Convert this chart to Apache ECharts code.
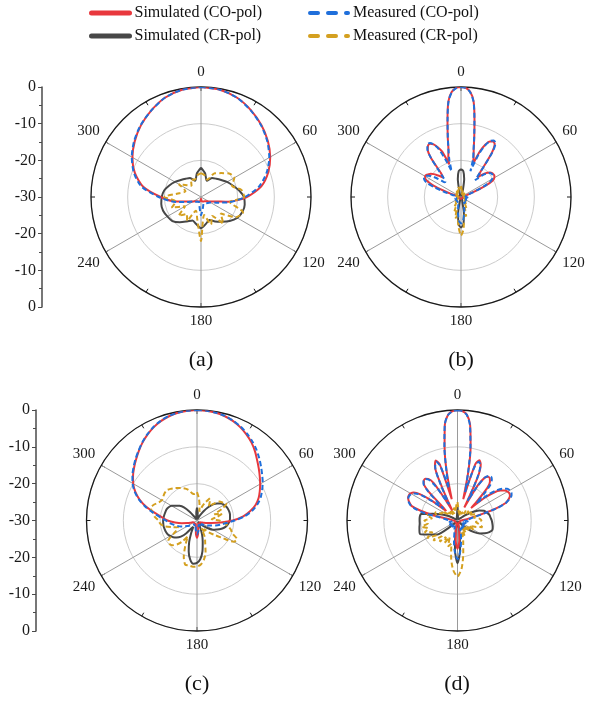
<!DOCTYPE html>
<html><head><meta charset="utf-8">
<script src="https://cdn.jsdelivr.net/npm/echarts@6/dist/echarts.min.js"></script>
<style>html,body{margin:0;padding:0;background:#fff}#c{width:595px;height:704px}</style>
</head><body><div id="c"></div><script>
// ---------- tick labels ----------
const ANGLE_LABELS = ['0','60','120','180','240','300',''];
const Y_LABELS = ['0','-10','-20','-30','-20','-10','0'];
const CAPTIONS = ['(a)','(b)','(c)','(d)'];
const NAMES = ['Simulated (CO-pol)','Simulated (CR-pol)','Measured (CO-pol)','Measured (CR-pol)'];

// ---------- angle grids (degrees) ----------
const ANG10 = [0,10,20,30,40,50,60,70,80,90,100,110,120,130,140,150,160,170,180,190,200,210,220,230,240,250,260,270,280,290,300,310,320,330,340,350];
const ANG5 = [0,5,10,15,20,25,30,35,40,45,50,55,60,65,70,75,80,85,90,95,100,105,110,115,120,125,130,135,140,145,150,155,160,165,170,175,180,185,190,195,200,205,210,215,220,225,230,235,240,245,250,255,260,265,270,275,280,285,290,295,300,305,310,315,320,325,330,335,340,345,350,355];
const ANGF = [0,2.5,5,7.5,10,12.5,15,17.5,20,22.5,25,27.5,30,32.5,35,37.5,40,42.5,45,47.5,50,52.5,55,57.5,60,62.5,65,67.5,70,72.5,75,
  80,85,90,95,100,105,110,115,120,125,130,135,140,145,150,155,160,165,170,175,180,185,190,195,200,205,210,215,220,225,230,235,240,245,250,255,260,265,270,275,280,
  282.5,285,287.5,290,292.5,295,297.5,300,302.5,305,307.5,310,312.5,315,317.5,320,322.5,325,327.5,330,332.5,335,337.5,340,342.5,345,347.5,350,352.5,355,357.5];

// ---------- panel (a) values, dB ----------
const a_simCO = [0,-0.3,-1.2,-2.7,-4.4,-6.2,-8.2,-10.5,-13.3,-17.5,-22.5,-26.5,-27.6,-28.2,-28.5,-28.6,-28.7,-28.9,-29.5,-28.9,-28.7,-28.6,-28.5,-28.2,-27.6,-26.5,-23,-19,-14,-10.8,-8.4,-6.4,-4.5,-2.8,-1.2,-0.3];
const a_simCR = [-22.0,-23.5,-25.3,-24.0,-23.5,-22.8,-21.8,-20.8,-19.5,-18.3,-17.9,-18.0,-18.6,-19.8,-21.2,-22.3,-23.3,-22.5,-21.5,-22.5,-23.2,-22.3,-21.0,-19.8,-19.4,-19.0,-19.0,-19.3,-19.8,-20.8,-21.8,-22.8,-23.5,-24.0,-25.3,-23.5];
const a_meaCO = [0,-0.3,-1.2,-2.8,-4.5,-6.4,-8.5,-11,-14,-18,-22,-25.5,-27,-27.5,-27.8,-28,-28,-27,-25,-27.5,-28.5,-28.5,-28.3,-28,-27.5,-26,-22.5,-18.5,-13.5,-10.5,-8.2,-6.2,-4.4,-2.8,-1.2,-0.3];
const a_meaCR = [-23.5,-24,-25,-22.5,-21.5,-20,-19.5,-21,-18.8,-18.2,-22,-17.8,-19,-23,-20.5,-24,-22,-25,-18,-24,-26,-22.5,-24,-22,-25,-21.5,-23,-20,-24,-25.5,-23,-25,-26,-24.5,-25,-24];

// ---------- panel (b) values, dB ----------
const b_simCO = [0,-0.2,-1.2,-3.7,-8.8,-13.3,-16.6,-18.6,-20.5,-16.5,-14.2,-12.9,-12.5,-12.9,-15.5,-21,-23,-22,-21,-20.2,-19.6,-19.3,-19.2,-19.2,-19.5,-20.2,-22.5,-25.5,-27.5,-28.5,-29,
  -29.3,-29.5,-29.5,-29.5,-29.5,-29.5,-29.5,-29.5,-29.5,-29.5,
  -29.5,-29.5,-29.5,-29.5,-29.5,-29.5,-29.5,-29.5,-29.5,-29.5,
  -29.5,-29.5,-29.5,-29.5,-29.5,-29.5,-29.5,-29.5,-29.5,-29.5,
  -29.5,-29.5,-29.5,-29.5,-29.5,-29.5,-29.5,-29.5,-29.5,-29.5,-29.3,
  -29,-28.5,-27,-25,-22,-20,-19,-18.7,-18.8,-19.2,-19.6,-20.3,-21.2,-22,-22.8,-21.5,-16.5,-14.2,-13.3,-13.2,-13.8,-15,-16.6,-20.5,-18.5,-16.8,-13.3,-8.8,-3.7,-1.2,-0.2];
const b_meaCO = [0,-0.3,-1.3,-3.8,-8.9,-13.4,-16.8,-19,-22.5,-17.5,-14.5,-12.8,-12.2,-12.5,-15,-21,-24,-23,-21.5,-20.5,-19.8,-19.5,-19.5,-19.7,-20.2,-21,-23,-25.5,-27.5,-28,-28.5,
  -28.5,-28.8,-28.5,-28.2,-28.7,-28.4,-28.8,-28.3,-28.6,-28.2,-28.7,-28.4,-28.5,-28.1,-28.4,-27.8,-27.5,-26.5,-25.2,-23.5,-22.8,-23.5,-25.5,-27,-27.8,-28.3,-28.5,-28.2,-28.6,-28.3,-28.7,-28.4,-28.6,-28.2,-28.7,-28.4,-28.6,-28.3,-28.5,-28.4,-28.3,
  -28,-27,-25,-22.5,-20,-19,-18.6,-18.7,-19.2,-20,-21.5,-23,-24,-24,-23,-20.5,-16.5,-14,-13,-13,-13.8,-15.5,-19,-22.5,-19.5,-16.8,-13.4,-8.9,-3.8,-1.3,-0.3];
const b_simCR = [-22.4,-22.9,-25,-28,-29.5,-29.5,-29.5,-29.5,-29.5,-29.5,-29.5,-29.5,
  -29.5,-29.5,-29.5,-29.5,-29.5,-29.5,-29.5,-29.5,-29.5,-29.5,-29.5,-29.5,
  -29.5,-29.5,-29.5,-29.5,-29.5,-29.5,-29.5,-29.5,-29.5,-28.5,-25.5,-22.5,
  -21.7,-22.5,-25.5,-28.5,-29.5,-29.5,-29.5,-29.5,-29.5,-29.5,-29.5,-29.5,
  -29.5,-29.5,-29.5,-29.5,-29.5,-29.5,-29.5,-29.5,-29.5,-29.5,-29.5,-29.5,
  -29.5,-29.5,-29.5,-29.5,-29.5,-29.5,-29.5,-29.5,-29.5,-28,-25,-22.9];
const b_meaCR = [-27,-28,-28.8,-28.2,-29.3,-28.6,-29.4,-28.7,-29.2,-28.5,-29.4,-28.9,
  -29.5,-28.8,-29.3,-28.6,-29.4,-28.8,-29.2,-28.5,-29.3,-28.6,-29.1,-28.4,
  -29,-28.2,-28.9,-27.8,-28.5,-27.2,-27.8,-26.3,-27,-24.5,-25.5,-21.5,
  -19.5,-22,-24.8,-24,-26.5,-25.8,-27.5,-27,-28.3,-27.8,-28.8,-28.2,
  -29.2,-28.6,-29.4,-28.7,-29.3,-28.6,-29.4,-28.8,-29.3,-28.5,-29.2,-28.4,
  -29,-28.3,-28.9,-28.1,-28.7,-27.9,-28.6,-27.8,-28.3,-27.2,-27.8,-26.8];

// ---------- panel (c) values, dB ----------
const c_simCO = [0,-0.1,-0.3,-0.7,-1.3,-2.1,-3.1,-4.2,-5.5,-6.9,-8.1,-9.2,
  -10.2,-11.2,-12.2,-13.5,-15.3,-17.4,-20.3,-23.5,-26,-27.5,-28.3,-28.7,
  -29,-29,-29,-29,-29,-29,-29,-29,-29,-28.8,-28.2,-26.5,
  -25.3,-26.5,-28.2,-28.8,-29,-29,-29,-29,-29,-29,-29,-29,
  -29,-28.8,-28.3,-27.3,-25.8,-24,-22,-20.5,-18.5,-15.8,-13.4,-11.5,
  -10,-8.8,-7.7,-6.6,-5.4,-4.2,-3.1,-2.1,-1.3,-0.7,-0.3,-0.1];
const c_meaCO = [0,-0.1,-0.3,-0.6,-1.2,-1.9,-2.8,-3.8,-4.9,-6.1,-7.3,-8.4,
  -9.4,-10.5,-11.6,-13,-14.8,-17,-19.8,-22,-23.5,-24.8,-26,-26.8,
  -27.5,-28,-28.5,-28.2,-28.7,-28.5,-28.8,-28.4,-28.7,-28.3,-27.5,-26.8,
  -26.2,-27,-28,-28.6,-28.3,-28.7,-28.4,-28.8,-28.5,-28.2,-28,-27.6,
  -27,-26.2,-25.3,-24.4,-23.5,-22.5,-21.5,-20,-18,-15.5,-13.2,-11.3,
  -9.8,-8.6,-7.5,-6.4,-5.3,-4.1,-3,-2,-1.2,-0.6,-0.3,-0.1];
const c_simCR = [-26.5,-27.8,-29.2,-29.5,-29.5,-29.3,-28.5,-27,-25.3,-23.8,-22.8,-22,
  -21.5,-21.2,-21,-20.9,-20.9,-21,-21.1,-21.4,-21.8,-22.4,-23.2,-24.2,
  -25,-26.2,-27.5,-28.6,-29.2,-29.5,-29.2,-28,-26,-24,-21.5,-19.5,
  -18.5,-18.2,-19.3,-21.3,-23.8,-26.3,-28,-27.5,-25.5,-23.8,-22.8,-22.1,
  -21.6,-21.2,-21,-20.9,-20.8,-20.8,-20.8,-20.9,-21,-21.1,-21.2,-21.5,
  -22,-23,-23.8,-25,-27,-28.8,-29.5,-29.5,-29.5,-29.3,-29.2,-27.8];
const c_meaCR = [-22.3,-24,-26,-27.5,-26,-24.5,-23,-24,-25,-23.5,-22,-21.5,
  -20.8,-22.5,-25,-23,-24.5,-26,-24,-22.5,-21.5,-20.5,-19.8,-18,
  -18.5,-22,-24,-25.5,-27,-26,-27.5,-25,-23.5,-21,-19.2,-18,
  -17.5,-17.4,-17.6,-17.6,-19.5,-22.5,-25,-23,-21.5,-20.5,-20.2,-20.5,
  -22.5,-24,-24.5,-23,-21,-20,-19.5,-18.5,-17.8,-17,-17.5,-18.5,
  -19,-18.8,-18.5,-18.4,-18.8,-19.3,-19.8,-20.3,-20.8,-21.5,-22.5,-22.8];

// ---------- panel (d) values, dB ----------
const d_simCO = [0,-0.3,-1.1,-3.8,-9.5,-16.5,-24,-14,-12.6,-13.5,-17,-26,-19,-16.2,-15.5,-15.6,-16.3,-18,-22,-25,-20.5,-17.5,-15.8,-14.8,-14.3,-14.1,-14.3,-15,-16.1,-19,-23,
  -27,-28.5,-29,-29.2,-29.3,-29.3,-29.3,-29.3,-29.3,-29.3,-29.3,-29.3,-29.3,-29.3,-29.3,-29.3,-29.3,-29,-27.5,-24.5,-22.3,-24.5,-27.5,-29,-29.3,-29.3,-29.3,-29.3,-29.3,-29.3,-29.3,-29.3,-29.3,-29.3,-29.3,-29.3,-29.3,-29.3,-29,-28.5,-27,
  -23,-19.5,-17,-16.2,-15.6,-15.2,-15.1,-15.3,-15.9,-17.5,-21,-26,-25,-19,-16.5,-15.8,-15.7,-16.2,-18,-24,-27,-20,-14,-12.7,-14,-24,-16.5,-9.8,-3.7,-1.1,-0.3];
const d_meaCO = [-0.1,-0.3,-1.2,-4,-9.8,-16.8,-22,-15,-13,-13.8,-17.5,-24,-19.5,-16.2,-15.2,-15,-15.5,-16.8,-20,-23,-19,-16.5,-15,-14,-13.6,-13.5,-13.8,-14.7,-16,-18.5,-22.5,
  -26,-27,-28,-27.2,-28.3,-27.5,-28.4,-27.8,-28.5,-27.6,-28.2,-27.5,-28.3,-27.4,-28,-27.2,-27.8,-26.5,-24.5,-21.5,-19.5,-21.5,-24.5,-26.8,-27.6,-28.3,-27.5,-28.4,-27.7,-28.5,-27.6,-28.3,-27.5,-28.2,-27.6,-28.4,-27.8,-28.3,-27.8,-27,-25,
  -21,-18.5,-16.8,-16,-15.5,-15.3,-15.3,-15.6,-16.3,-18,-21.5,-25,-23,-18.5,-16.3,-15.7,-15.8,-16.5,-19,-23.5,-25,-19,-14.2,-13,-14.5,-21,-16,-9.5,-3.6,-1.2,-0.3];
const d_simCR = [-26,-28.5,-29.5,-29.5,-29.5,-29.5,-29.5,-29.5,-29.5,-29.5,-29,-27.5,
  -25.5,-23.5,-22.3,-21.7,-21.2,-21,-20.7,-20.5,-20.3,-20.2,-20.8,-21.8,
  -23,-24.5,-26.5,-28.5,-29.5,-29.5,-29.5,-29.5,-29.5,-29.5,-27,-22,
  -18.4,-22,-27,-29.5,-29.5,-29.5,-29.5,-29.5,-29.5,-29,-27,-23.4,
  -22.4,-21,-19.2,-19.3,-19.5,-19.7,-19.7,-19.7,-20,-23,-25,-27,
  -28.5,-29.5,-29.5,-29.5,-29.5,-29.5,-29.5,-29.5,-29.5,-29.5,-29.5,-28.5];
const d_meaCR = [-25,-27,-28,-27,-28.5,-27.5,-28,-27,-26.5,-27.5,-26,-27,
  -25.5,-26.5,-25,-24.5,-25.5,-24,-23.5,-25,-24,-23,-25,-26.5,
  -25,-27,-26,-28,-27,-26,-27.5,-25.5,-26.5,-24,-21,-17,
  -14.8,-16.5,-20,-23.5,-22.5,-25,-23,-24.5,-22.5,-24,-21.5,-23,
  -20.5,-22.5,-20.5,-21.8,-20.2,-22,-21,-23,-21.5,-24,-23.5,-25.5,
  -25,-27,-26.5,-27.5,-26.5,-28,-27,-28,-27,-26.5,-27.5,-26];

// ---------- layout / style (not data) ----------
const PANELS = [
  {center:[201,197], radius:110},
  {center:[461,197], radius:110},
  {center:[197,520.5], radius:110.5},
  {center:[457.5,520.5], radius:110.5}
];
const CAPTION_POS = [[201,360],[461,360],[197,684],[457,684]];
const STYLE = {
  'Simulated (CO-pol)': {color:'#E8383D', type:'solid', z:3},
  'Simulated (CR-pol)': {color:'#474747', type:'solid', z:2},
  'Measured (CO-pol)':  {color:'#1F6FDB', type:[5,3], z:5},
  'Measured (CR-pol)':  {color:'#D4A020', type:[5,3], z:4}
};
const SERIF = 'Liberation Serif';

const PANEL_DATA = [
  [[ANG10,a_simCO],[ANG10,a_simCR],[ANG10,a_meaCO],[ANG10,a_meaCR]],
  [[ANGF,b_simCO],[ANG5,b_simCR],[ANGF,b_meaCO],[ANG5,b_meaCR]],
  [[ANG5,c_simCO],[ANG5,c_simCR],[ANG5,c_meaCO],[ANG5,c_meaCR]],
  [[ANGF,d_simCO],[ANG5,d_simCR],[ANGF,d_meaCO],[ANG5,d_meaCR]]
];

const series = [];
PANEL_DATA.forEach((pd, pi) => {
  pd.forEach(([angs, vals], si) => {
    const name = NAMES[si];
    if (angs.length !== vals.length) throw new Error('length mismatch panel ' + pi + ' ' + name + ': ' + vals.length + ' vs ' + angs.length);
    const data = angs.map((a, i) => [vals[i], a]);
    data.push([vals[0], angs[0] + 360]);
    const st = STYLE[name];
    series.push({
      name, type:'line', coordinateSystem:'polar', polarIndex:pi,
      data, symbol:'none', smooth:0.25, z:st.z, silent:true, animation:false,
      lineStyle:{color:st.color, width:2, type:st.type},
      itemStyle:{color:st.color}
    });
  });
});

const polar = PANELS.map(p => ({center:p.center, radius:p.radius}));
const angleAxis = PANELS.map((p, i) => ({
  polarIndex:i, type:'value', min:0, max:360, interval:60, startAngle:90, clockwise:true,
  axisLine:{lineStyle:{color:'#1a1a1a', width:1.3}},
  axisTick:{show:true, inside:true, length:4, lineStyle:{color:'#1a1a1a'}},
  minorTick:{show:true, splitNumber:2, length:4, lineStyle:{color:'#1a1a1a'}},
  axisLabel:{margin:7, color:'#1a1a1a', fontFamily:SERIF, fontSize:15,
    formatter: v => { const k = Math.round(v / 60); return ANGLE_LABELS[k] || ''; }},
  splitLine:{show:true, lineStyle:{color:'#9a9a9a', width:1}}
}));
const radiusAxis = PANELS.map((p, i) => ({
  polarIndex:i, type:'value', min:-30, max:0, interval:10,
  axisLine:{show:false}, axisTick:{show:false}, axisLabel:{show:false},
  splitLine:{show:true, lineStyle:{color:'#cccccc', width:1}}
}));

const yAxisCommon = {
  type:'value', min:0, max:60, interval:10,
  axisLine:{show:true, lineStyle:{color:'#4a4a4a', width:1.5}},
  axisTick:{show:true, length:4, lineStyle:{color:'#4a4a4a'}},
  minorTick:{show:true, splitNumber:2, length:3, lineStyle:{color:'#4a4a4a'}},
  splitLine:{show:false},
  axisLabel:{margin:6, color:'#1a1a1a', fontFamily:SERIF, fontSize:16,
    formatter: v => Y_LABELS[Math.round(v / 10)]}
};

const legendText = {fontFamily:SERIF, fontSize:16, color:'#111'};
const hiddenDot = {color:'rgba(0,0,0,0)', borderWidth:0, opacity:0};
const option = {
  backgroundColor:'#fff',
  animation:false,
  legend:[
    {left:89, top:5, padding:0, orient:'vertical', itemWidth:38, itemHeight:18, itemGap:7, selectedMode:false,
     textStyle:legendText,
     data:NAMES.slice(0,2).map(n => ({name:n, itemStyle:hiddenDot, lineStyle:{width:5, cap:'round', type:'solid'}}))},
    {left:308, top:5, padding:0, orient:'vertical', itemWidth:38, itemHeight:18, itemGap:7, selectedMode:false,
     textStyle:legendText,
     data:NAMES.slice(2,4).map(n => ({name:n, itemStyle:hiddenDot, lineStyle:{width:4, cap:'round', type:[8,10]}}))}
  ],
  polar, angleAxis, radiusAxis,
  grid:[{left:42, top:87, width:10, height:220}, {left:36, top:410, width:10, height:221}],
  xAxis:[{gridIndex:0, type:'value', show:false}, {gridIndex:1, type:'value', show:false}],
  yAxis:[Object.assign({gridIndex:0}, yAxisCommon), Object.assign({gridIndex:1}, yAxisCommon)],
  graphic: CAPTIONS.map((t, i) => ({
    type:'text', x:CAPTION_POS[i][0], y:CAPTION_POS[i][1],
    style:{text:t, font:'22px "Liberation Serif"', fill:'#111', align:'center', verticalAlign:'middle'}
  })),
  series
};

const chart = echarts.init(document.getElementById('c'), null, {renderer:'canvas'});
chart.setOption(option);
</script></body></html>
